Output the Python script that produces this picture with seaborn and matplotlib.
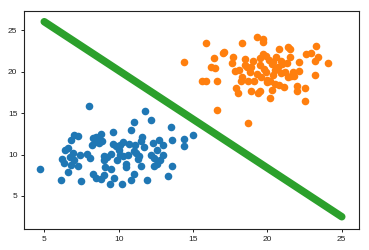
import numpy as np
import pandas as pd
import matplotlib
matplotlib.use("Agg")
import matplotlib.pyplot as plt
import seaborn as sns

blue_x = [4.7, 6.1, 7.5, 8.0, 6.2, 6.3, 6.4, 6.6, 6.6, 6.7, 6.8, 6.9, 7.0, 7.0, 6.8, 7.3, 7.4, 7.3,
          7.9, 8.1, 8.2, 8.3, 8.3, 8.4, 8.5, 8.5, 8.6, 8.7, 8.8, 8.8, 8.9, 9.0, 9.0, 9.0, 9.1, 9.2,
          9.4, 9.5, 9.5, 9.6, 9.6, 9.7, 9.8, 9.9, 10.0, 10.1, 10.1, 10.2, 10.3, 10.3, 10.5, 10.5,
          10.6, 10.7, 10.8, 10.8, 11.0, 11.0, 11.0, 11.1, 11.2, 11.3, 11.4, 11.5, 11.5, 11.6, 11.7,
          11.8, 11.9, 12.2, 12.2, 12.3, 12.4, 12.4, 12.6, 12.6, 12.7, 12.8, 13.0, 13.0, 13.3, 13.5,
          13.6, 13.6, 14.4, 14.4, 15.0]
blue_y = [8.3, 6.9, 6.8, 15.9, 9.5, 9.0, 10.5, 10.8, 7.9, 9.7, 11.7, 10.2, 12.3, 9.3, 8.7, 12.2, 9.9, 8.6,
          10.1, 9.6, 11.2, 12.0, 7.7, 11.5, 12.1, 7.2, 11.7, 11.4, 12.5, 7.1, 11.6, 7.5, 9.8, 9.3, 8.5, 9.7,
          6.4, 10.1, 8.3, 12.7, 11.3, 7.2, 11.0, 9.3, 10.5, 11.2, 10.0, 6.4, 11.5, 9.8, 8.5, 8.8,
          9.9, 11.3, 12.9, 6.9, 7.6, 13.9, 10.4, 11.1, 10.2, 9.5, 9.8, 8.6, 11.6, 12.1, 10.9,
          15.2, 6.9, 14.1, 10.0, 11.4, 9.6, 8.6, 10.5, 8.8, 11.8, 9.3, 11.1, 10.0, 7.4, 13.3,
          11.7, 8.6, 11.9, 11.0, 12.3]

orange_x = [14.4, 15.6, 15.9, 15.9, 16.2, 16.4, 16.5, 16.6, 16.6, 17.0, 17.1, 17.6, 17.7, 17.8, 17.9,
            18.0, 18.1, 18.2, 18.3, 18.3, 18.5, 18.5, 18.6, 18.7, 18.7, 18.8, 18.9, 19.0, 19.1, 19.3,
            19.3, 19.4, 19.5, 19.5, 19.6, 19.7, 19.7, 19.7, 19.8, 19.9, 19.9, 20.0, 20.0, 20.1, 20.2,
            20.2, 20.3, 20.3, 20.4, 20.5, 20.5, 20.6, 20.7, 20.8, 20.8, 20.9, 21.0, 21.1, 21.2, 21.3,
            21.4, 21.4, 21.5, 21.5, 21.6, 21.7, 21.8, 22.0, 22.0, 22.1, 22.1, 22.5, 22.5, 22.6, 22.9,
            23.2, 23.2, 23.3, 23.4, 24.1, 19.5, 20.9, 18.9, 20.4]
orange_y = [21.2, 18.9, 18.8, 23.4, 20.5, 21.6, 20.4, 18.9, 15.4, 22.2, 22.4, 21.0, 21.7, 20.1, 18.0,
            17.4, 20.2, 18.9, 19.3, 23.4, 20.8, 21.5, 20.6, 18.9, 13.8, 19.9, 17.7, 21.3, 18.8, 24.1,
            19.7, 17.4, 17.6, 21.6, 19.3, 23.5, 23.9, 22.1, 20.3, 20.0, 21.9, 19.0, 18.7, 21.4, 18.9,
            16.8, 17.8, 20.9, 21.2, 20.2, 18.5, 21.7, 20.5, 22.7, 18.4, 21.3, 20.9, 18.1, 20.0, 21.0,
            19.3, 23.0, 22.7, 21.7, 19.5, 20.0, 19.5, 17.6, 18.2, 21.1, 20.1, 16.4, 18.0, 22.1, 22.2,
            19.6, 21.3, 23.1, 21.8, 21.0, 20.8, 19.8, 20.6, 19.6]

line_x = [5, 25]
line_y = [26.0, 2.5]

plt.rcParams['font.family'] = ['Liberation Sans', 'DejaVu Sans']

fig = plt.figure(figsize=(3.69, 2.5), dpi=100)
ax = fig.add_axes([0.0659, 0.0852, 0.9079, 0.8708])

sns.scatterplot(x=blue_x, y=blue_y, ax=ax, color='#1f77b4', s=30, linewidth=0)
sns.scatterplot(x=orange_x, y=orange_y, ax=ax, color='#ff7f0e', s=30, linewidth=0)
sns.lineplot(x=line_x, y=line_y, ax=ax, color='#2ca02c', linewidth=5.4,
             solid_capstyle='round', sort=False)

ax.set_xlim(3.66, 26.18)
ax.set_ylim(1.06, 27.29)
ax.set_xticks([5, 10, 15, 20, 25])
ax.set_yticks([5, 10, 15, 20, 25])
ax.tick_params(labelsize=6, length=2.5, width=0.7, pad=2.5, colors='#222222')
for s in ax.spines.values():
    s.set_linewidth(0.8)
    s.set_color('#222222')
ax.set_facecolor('white')

fig.savefig('out.png', dpi=100)
